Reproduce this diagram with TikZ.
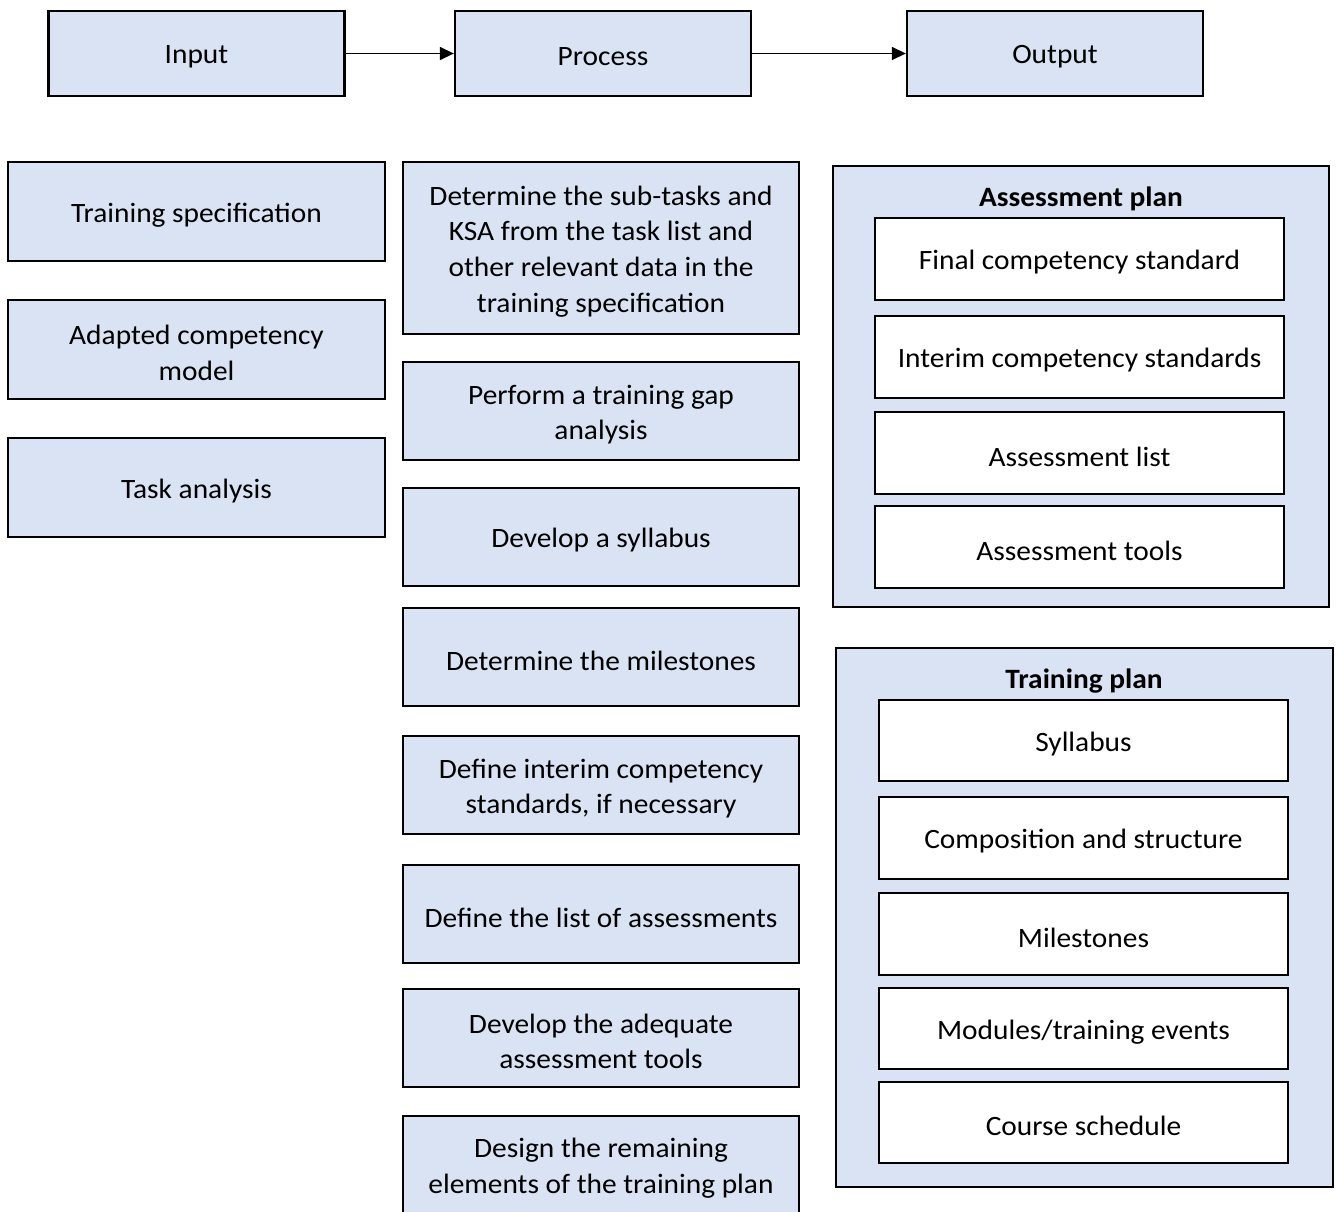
\documentclass[tikz,border=0pt]{standalone}
\usepackage{fontspec}
\setmainfont{Carlito}[FakeStretch=1.05]
\usetikzlibrary{arrows.meta}
\definecolor{boxblue}{HTML}{DAE3F3}
\newcommand{\boxfont}{\fontsize{28}{35.7}\selectfont}
\tikzset{
  x=1pt, y=-1pt,
  bluebox/.style={draw=black, line width=2.3pt, fill=boxblue, inner sep=0pt},
  whitebox/.style={draw=black, line width=2.3pt, fill=white, inner sep=0pt,
    minimum width=409pt, minimum height=82pt},
  topbox/.style={bluebox, minimum width=296pt, minimum height=85pt},
  inbox/.style={bluebox, minimum width=377pt, minimum height=99pt},
  procbox/.style={bluebox, minimum width=396pt, minimum height=98pt},
  boxtext/.style={inner sep=0pt, align=center, font=\boxfont},
  plantitle/.style={inner sep=0pt, font=\boxfont\bfseries},
  flowarrow/.style={line width=1.4pt, -{Triangle[length=14pt,width=13pt]}}
}
% #1 style, #2 name, #3 position, #4 text
\newcommand{\mkbox}[4]{%
  \node[#1] (#2) at (#3) {};
  \node[boxtext] (#2-t) at ([yshift=-3.5pt]#2.center) {#4};}
\begin{document}
\begin{tikzpicture}
\clip (0,0) rectangle (1339,1211);
\fill[white] (0,0) rectangle (1339,1211);

% top row
\mkbox{topbox}{input}{196.5,53.5}{Input}
\mkbox{topbox}{process}{603,53.5}{Process}
\mkbox{topbox}{output}{1055,53.5}{Output}
\draw[flowarrow] (input.east) -- (process.west);
\draw[flowarrow] (process.east) -- (output.west);

% input column
\mkbox{inbox}{spec}{196.5,211.5}{Training specification}
\mkbox{inbox}{model}{196.5,349.5}{Adapted competency\\model}
\mkbox{inbox}{task}{196.5,487.5}{Task analysis}

% process column
\mkbox{procbox, minimum height=172pt}{p1}{601,248}{Determine the sub-tasks and\\KSA from the task list and\\other relevant data in the\\training specification}
\mkbox{procbox}{p2}{601,411}{Perform a training gap\\analysis}
\mkbox{procbox}{p3}{601,537}{Develop a syllabus}
\mkbox{procbox}{p4}{601,657}{Determine the milestones}
\mkbox{procbox}{p5}{601,785}{Define interim competency\\standards, if necessary}
\mkbox{procbox}{p6}{601,914}{Define the list of assessments}
\mkbox{procbox}{p7}{601,1038}{Develop the adequate\\assessment tools}
\mkbox{procbox}{p8}{601,1165}{Design the remaining\\elements of the training plan}

% assessment plan
\node[bluebox, minimum width=496pt, minimum height=441pt] (aplan) at (1081,386.5) {};
\node[plantitle] (atitle) at (1081,199) {Assessment plan};
\mkbox{whitebox}{a1}{1079.5,259}{Final competency standard}
\mkbox{whitebox}{a2}{1079.5,357}{Interim competency standards}
\mkbox{whitebox}{a3}{1079.5,453}{Assessment list}
\mkbox{whitebox}{a4}{1079.5,547}{Assessment tools}

% training plan
\node[bluebox, minimum width=497pt, minimum height=539pt] (tplan) at (1084.5,917.5) {};
\node[plantitle] (ttitle) at (1084,681) {Training plan};
\mkbox{whitebox, minimum height=81pt}{t1}{1083.5,740.5}{Syllabus}
\mkbox{whitebox}{t2}{1083.5,838}{Composition and structure}
\mkbox{whitebox}{t3}{1083.5,934}{Milestones}
\mkbox{whitebox, minimum height=81pt}{t4}{1083.5,1028.5}{Modules/training events}
\mkbox{whitebox, minimum height=81pt}{t5}{1083.5,1122.5}{Course schedule}
\end{tikzpicture}
\end{document}
